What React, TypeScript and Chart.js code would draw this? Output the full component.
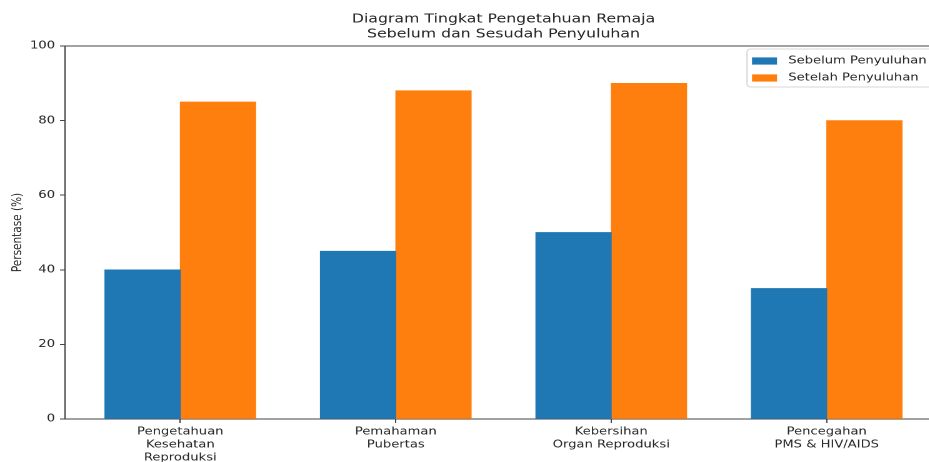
import { useEffect, useRef } from "react";
import { Chart, registerables } from "chart.js";

Chart.register(...registerables);

// ---- data ----
const titleLines = ["Diagram Tingkat Pengetahuan Remaja", "Sebelum dan Sesudah Penyuluhan"];
const categories = [
  "Pengetahuan\nKesehatan\nReproduksi",
  "Pemahaman\nPubertas",
  "Kebersihan\nOrgan Reproduksi",
  "Pencegahan\nPMS & HIV/AIDS",
];
const seriesNames = ["Sebelum Penyuluhan", "Setelah Penyuluhan"];
const sebelum = [40, 45, 50, 35];
const sesudah = [85, 88, 90, 80];
const yTicks = [0, 20, 40, 60, 80, 100];
const yAxisTitle = "Persentase (%)";

// ---- styling / layout ----
const BLUE = "#1f77b4";
const ORANGE = "#ff7f0e";
const TEXT = "#262626";
const AXIS = "#444444";
const FONT_FAMILY = "'DejaVu Sans', sans-serif";
const SX = 1.25; // horizontal stretch of the reference image
const W = 760; // internal canvas width
const H = 462;
const BAR_W = 0.35;

const titlePlugin = {
  id: "customTitle",
  afterDraw(chart: any) {
    const { ctx, chartArea } = chart;
    ctx.save();
    ctx.fillStyle = TEXT;
    ctx.font = `12.6px ${FONT_FAMILY}`;
    ctx.textAlign = "center";
    ctx.textBaseline = "middle";
    const cx = (chartArea.left + chartArea.right) / 2;
    ctx.fillText(titleLines[0], cx, 19);
    ctx.fillText(titleLines[1], cx, 34);
    ctx.restore();
  },
};

const framePlugin = {
  id: "frame",
  afterDatasetsDraw(chart: any) {
    const { ctx, chartArea } = chart;
    ctx.save();
    ctx.strokeStyle = AXIS;
    ctx.lineWidth = 1;
    ctx.beginPath();
    ctx.moveTo(chartArea.left, chartArea.top);
    ctx.lineTo(chartArea.right, chartArea.top);
    ctx.lineTo(chartArea.right, chartArea.bottom);
    ctx.stroke();
    ctx.restore();
  },
};

const legendPlugin = {
  id: "boxLegend",
  afterDraw(chart: any) {
    const { ctx, chartArea } = chart;
    const ds = chart.data.datasets;
    const fontSize = 10.5;
    const right = chartArea.right - 5.5;
    const left = right - 150.5;
    const top = chartArea.top + 3;
    const bottom = top + 38;
    ctx.save();
    ctx.beginPath();
    (ctx as any).roundRect(left, top, right - left, bottom - top, 3);
    ctx.fillStyle = "rgba(255,255,255,0.8)";
    ctx.fill();
    ctx.strokeStyle = "#d6d6d6";
    ctx.lineWidth = 1;
    ctx.stroke();
    ctx.font = `${fontSize}px ${FONT_FAMILY}`;
    ctx.textAlign = "left";
    ctx.textBaseline = "middle";
    ds.forEach((d: any, i: number) => {
      const cy = top + 12 + i * 17;
      ctx.fillStyle = d.backgroundColor;
      ctx.fillRect(left + 4, cy - 3.6, 20, 7.2);
      ctx.fillStyle = TEXT;
      ctx.fillText(d.label, left + 33, cy);
    });
    ctx.restore();
  },
};

export default function App() {
  const ref = useRef<HTMLCanvasElement | null>(null);

  useEffect(() => {
    const canvas = ref.current;
    if (!canvas) return;
    const font = { family: FONT_FAMILY, size: 10.5 };
    const chart = new Chart(canvas, {
      type: "bar",
      data: {
        datasets: [
          {
            label: seriesNames[0],
            data: sebelum.map((v, i) => ({ x: i - BAR_W / 2, y: v })),
            backgroundColor: BLUE,
            borderWidth: 0,
            grouped: false,
            categoryPercentage: 1,
            barPercentage: 1,
          },
          {
            label: seriesNames[1],
            data: sesudah.map((v, i) => ({ x: i + BAR_W / 2, y: v })),
            backgroundColor: ORANGE,
            borderWidth: 0,
            grouped: false,
            categoryPercentage: 1,
            barPercentage: 1,
          },
        ],
      } as any,
      options: {
        responsive: false,
        animation: false,
        devicePixelRatio: 2,
        layout: { padding: { top: 46, right: 6.4, left: 0, bottom: 0 } },
        plugins: {
          legend: { display: false },
          title: { display: false },
          tooltip: { enabled: false },
        },
        scales: {
          x: {
            type: "linear",
            bounds: "data",
            min: -0.535,
            max: 3.535,
            offset: false,
            afterBuildTicks: (axis: any) => {
              axis.ticks = categories.map((_, i) => ({ value: i }));
            },
            afterFit: (axis: any) => {
              axis.height = 43;
            },
            ticks: {
              autoSkip: false,
              maxRotation: 0,
              minRotation: 0,
              padding: 2,
              color: TEXT,
              font: { ...font, lineHeight: 1.25 },
              callback: (v: any) => {
                const c = categories[Number(v)];
                return c ? c.split("\n") : "";
              },
            },
            grid: {
              display: true,
              offset: false,
              drawOnChartArea: false,
              drawTicks: true,
              tickLength: 4,
              tickColor: AXIS,
            },
            border: { display: true, color: AXIS, width: 1 },
          },
          y: {
            type: "linear",
            min: 0,
            max: 100,
            afterBuildTicks: (axis: any) => {
              axis.ticks = yTicks.map((v) => ({ value: v }));
            },
            afterFit: (axis: any) => {
              axis.width = 52;
            },
            ticks: { padding: 4, color: TEXT, font },
            grid: {
              display: true,
              drawOnChartArea: false,
              drawTicks: true,
              tickLength: 4,
              tickColor: AXIS,
            },
            border: { display: true, color: AXIS, width: 1 },
            title: {
              display: true,
              text: yAxisTitle,
              color: TEXT,
              font,
              padding: { top: 8, bottom: 0 },
            },
          },
        },
      } as any,
      plugins: [framePlugin, legendPlugin, titlePlugin],
    });
    return () => chart.destroy();
  }, []);

  return (
    <div
      style={{
        position: "fixed",
        left: 0,
        top: 0,
        width: 929,
        height: H,
        overflow: "hidden",
        background: "#ffffff",
      }}
    >
      <canvas
        ref={ref}
        width={W}
        height={H}
        style={{ width: `${W * SX}px`, height: `${H}px`, display: "block" }}
      />
    </div>
  );
}
